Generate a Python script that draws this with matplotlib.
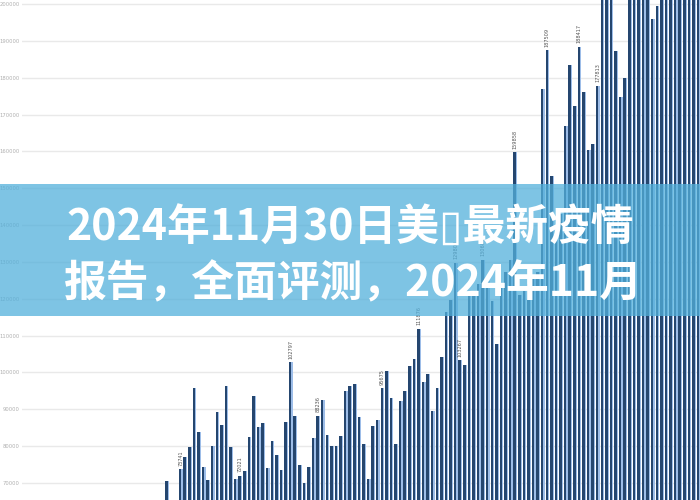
import matplotlib
matplotlib.use("Agg")
import matplotlib.pyplot as plt
from matplotlib.patches import Rectangle

# ---- data ----
values = [
    70500, 63000, 61000, 73741, 77100, 79700, 95900, 83900, 74300, 70800,
    80000, 89300, 85700, 96300, 79700, 71000, 72021, 73200, 82400, 93700,
    85300, 86200, 74100, 81300, 77500, 73500, 86500, 102797, 88200, 74900,
    70100, 74400, 82300, 88236, 92500, 82900, 80000, 80100, 82700, 95000,
    96300, 97000, 88000, 80600, 71000, 85400, 87100, 95675, 100400, 93200,
    80600, 92300, 95000, 101700, 103600, 111876, 97500, 99500, 89600, 95700,
    104200, 116300, 119800, 129800, 103267, 102000, 121100, 122000, 123900, 130600,
    124700, 119300, 107700, 123900, 127400, 130600, 159858, 121100, 122000, 124000,
    125800, 127400, 176900, 187509, 153200, 138000, 143000, 166800, 183500, 172400,
    188417, 176000, 160300, 162100, 177813, 208000, 212000, 206000, 187300, 174700,
    179900, 215000, 210000, 218000, 212000, 209000, 195900, 199500, 214000, 220000,
    211000, 216000, 223000, 213000, 218000, 210000, 217000,
]
labelled = [3, 16, 27, 33, 47, 55, 63, 64, 69, 76, 83, 90, 94]
ytick_values = [70000, 80000, 90000, 100000, 110000, 120000, 130000,
                140000, 150000, 160000, 170000, 180000, 190000, 200000]
title_lines = ["2024年11月30日美\u25af最新疫情", "报告，全面评测，2024年11月"]

# ---- figure ----
fig = plt.figure(figsize=(7, 5), dpi=100)
ax = fig.add_axes([22 / 700, 0, 1 - 22 / 700, 1])

x = list(range(len(values)))
light_w, dark_w = 0.82, 0.55
ax.bar([i - 0.41 for i in x], values, width=light_w, align="edge",
       color="#9dbde8", zorder=2)
ax.bar([i - 0.41 for i in x], values, width=dark_w, align="edge",
       color="#25466f", zorder=3)

for i in labelled:
    ax.text(i, values[i] + 900, str(values[i]), rotation=90, ha="center",
            va="bottom", fontsize=3.6, color="#555555", zorder=4)

ax.set_xlim((22 - 167) / 4.583, (700 - 167) / 4.583)
ax.set_ylim(65387, 201085)
ax.set_yticks(ytick_values)
ax.set_yticklabels([str(v) for v in ytick_values], fontsize=3.8, color="#b0b0b0")
ax.tick_params(axis="y", length=0, pad=1.5)
ax.set_xticks([])
ax.grid(axis="y", color="#e9e9e9", linewidth=1.0, zorder=0)
ax.set_axisbelow(True)
for s in ax.spines.values():
    s.set_visible(False)

# ---- overlay banner ----
fig.patches.append(Rectangle((0, 1 - 316 / 500), 1, (316 - 184) / 500,
                             transform=fig.transFigure, facecolor="#53b0db",
                             alpha=0.75, edgecolor="none", zorder=10))
fig.text(0.5, 1 - 228 / 500, title_lines[0], ha="center", va="center",
         fontsize=30.8, fontweight="bold", color="white",
         family=["Noto Sans CJK SC", "DejaVu Sans"], zorder=11)
fig.text(0.505, 1 - 283 / 500, title_lines[1], ha="center", va="center",
         fontsize=30.8, fontweight="bold", color="white",
         family=["Noto Sans CJK SC", "DejaVu Sans"], zorder=11)

fig.savefig("out.png", dpi=100)
